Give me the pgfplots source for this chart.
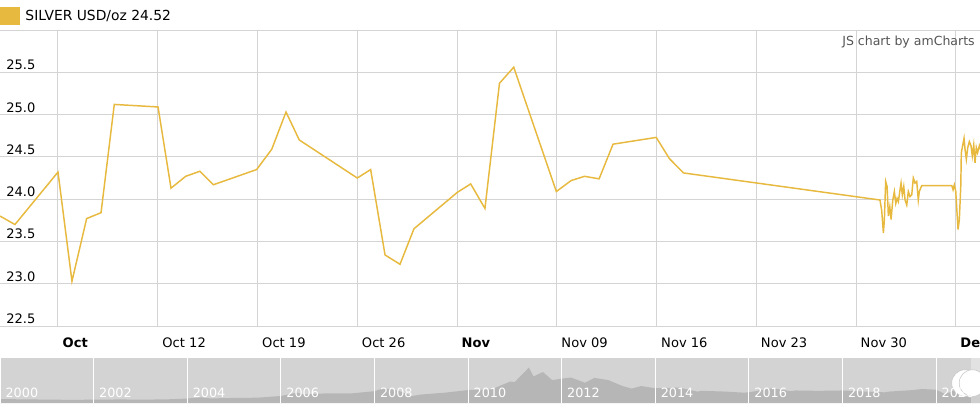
\documentclass[border=0pt]{standalone}
\usepackage{pgfplots}
\pgfplotsset{compat=1.18}
\usepackage{fontspec}
\setmainfont{DejaVu Sans}
\definecolor{silver}{RGB}{231,185,62}
\definecolor{gridc}{RGB}{212,212,212}
\definecolor{navbg}{RGB}{211,211,211}
\definecolor{navfill}{RGB}{182,182,182}
\definecolor{credit}{RGB}{85,85,85}
\begin{document}
\begin{tikzpicture}
\useasboundingbox (0,0) rectangle (735pt,-308.25pt);
\begin{axis}[
  at={(0pt,-22.5pt)}, anchor=north west,
  scale only axis, width=735pt, height=222pt,
  xmin=-4.07, xmax=64.70, ymin=22.5, ymax=26,
  axis line style={draw=none},
  major tick length=0pt,
  xtick={0,7,14,21,28,35,42,49,56,63},
  xticklabels={\textbf{Oct},Oct 12,Oct 19,Oct 26,\textbf{Nov},Nov 09,Nov 16,Nov 23,Nov 30,\textbf{Dec}},
  ytick={22.5,23,23.5,24,24.5,25,25.5,26},
  yticklabels={22.5,23.0,23.5,24.0,24.5,25.0,25.5,{}},
  grid=major, grid style={gridc, line width=0.75pt},
  tick label style={font=\fontsize{9.8pt}{12pt}\selectfont, text=black},
  xticklabel style={anchor=west, yshift=-12.75pt},
  yticklabel style={anchor=south west, inner sep=0pt, xshift=4.5pt, yshift=1.5pt},
  /pgf/number format/assume math mode=true,
  legend style={at={(0,1)}, anchor=south west, draw=none, fill=none,
    inner sep=0pt, outer sep=0pt, yshift=4pt,
    font=\fontsize{10.4pt}{12pt}\selectfont},
  legend cell align=left,
  legend image code/.code={\fill[silver] (0pt,-6pt) rectangle (14pt,6pt); \path (16pt,0pt);},
]
\addplot[silver, line width=1.1pt] coordinates {
(-4.07,23.80) (-3.02,23.70) (0,24.32) (0.98,23.03) (2.01,23.77) (3.02,23.84)
(3.95,25.12) (7.02,25.09) (7.93,24.13) (8.96,24.27) (9.96,24.33) (10.90,24.17)
(13.94,24.35) (15.00,24.59) (16.00,25.03) (16.93,24.70) (21.00,24.25) (21.94,24.35)
(22.95,23.34) (24.00,23.23) (24.98,23.65) (28.02,24.08) (28.96,24.18) (29.96,23.89)
(30.98,25.37) (31.98,25.56) (34.97,24.09) (36.01,24.22) (36.95,24.27) (37.97,24.24)
(38.95,24.65) (41.98,24.73) (42.90,24.48) (43.89,24.31)
(57.68,23.99) (57.80,23.87) (57.92,23.60) (57.99,23.76) (58.08,24.21) (58.18,24.15)
(58.27,23.80) (58.37,23.91) (58.46,23.76) (58.58,23.99) (58.69,24.09) (58.79,23.95)
(58.88,24.01) (58.97,23.97) (59.07,24.09) (59.16,24.19) (59.25,24.05) (59.35,24.15)
(59.44,23.99) (59.56,23.93) (59.67,24.09) (59.79,24.03) (59.91,24.05) (60.02,24.25)
(60.14,24.19) (60.26,24.21) (60.37,23.99) (60.44,24.09) (60.61,24.16) (62.72,24.16)
(62.81,24.11) (62.90,24.17) (63.00,24.09) (63.09,23.83) (63.16,23.64) (63.25,23.76)
(63.35,24.15) (63.39,24.55) (63.49,24.64) (63.58,24.72) (63.65,24.59) (63.74,24.47)
(63.84,24.61) (63.95,24.68) (64.07,24.63) (64.16,24.51) (64.26,24.64) (64.35,24.43)
(64.44,24.61) (64.53,24.55) (64.65,24.63) (64.70,24.59)
};
\addlegendentry{SILVER USD/oz 24.52}
\end{axis}
\node[anchor=east, inner sep=0pt, text=credit, font=\fontsize{9.4pt}{11pt}\selectfont] at (731.25pt,-31.7pt) {JS chart by amCharts};
\begin{axis}[
  at={(0pt,-268.5pt)}, anchor=north west,
  scale only axis, width=735pt, height=33.75pt,
  xmin=2000, xmax=2020.94, ymin=0, ymax=61,
  axis background/.style={fill=navbg},
  axis line style={draw=none}, major tick length=0pt,
  axis on top,
  xtick={2000,2002,2004,2006,2008,2010,2012,2014,2016,2018,2020},
  xticklabels={2000,2002,2004,2006,2008,2010,2012,2014,2016,2018,2020},
  ytick=\empty,
  xmajorgrids, major grid style={white, line width=0.75pt},
  xticklabel style={anchor=base west, inner sep=0pt, xshift=4pt, yshift=4pt, text=white,
    font=\fontsize{9.6pt}{11pt}\selectfont},
]
\addplot[fill=navfill, draw=none] coordinates {
(2000.0,5.3) (2000.5,5.0) (2001.0,4.6) (2001.5,4.3) (2002.0,4.5) (2002.5,4.8)
(2003.0,4.7) (2003.5,4.8) (2004.0,6.0) (2004.3,7.8) (2004.5,6.2) (2005.0,6.9)
(2005.5,7.2) (2006.0,9.5) (2006.35,14.0) (2006.5,11.5) (2007.0,13.2) (2007.5,13.0)
(2008.0,16.0) (2008.2,20.0) (2008.5,17.0) (2008.8,9.5) (2009.0,11.5) (2009.5,14.0)
(2010.0,17.5) (2010.5,18.5) (2010.9,29.0) (2011.0,28.5) (2011.3,48.0) (2011.4,36.0)
(2011.6,42.0) (2011.8,31.0) (2012.0,33.0) (2012.2,34.5) (2012.5,27.5) (2012.7,34.0)
(2013.0,31.0) (2013.3,23.0) (2013.5,19.5) (2013.7,23.0) (2014.0,20.0) (2014.5,21.0)
(2014.9,15.5) (2015.0,16.5) (2015.5,15.5) (2015.9,14.0) (2016.0,14.5) (2016.5,20.0)
(2016.9,16.0) (2017.0,17.0) (2017.5,16.5) (2018.0,17.0) (2018.5,15.5) (2018.9,14.5)
(2019.0,15.5) (2019.5,17.5) (2019.7,19.0) (2020.0,18.0) (2020.2,12.0) (2020.4,17.5)
(2020.6,28.5) (2020.75,24.0) (2020.94,24.5)
} \closedcycle;
\fill[white, opacity=0.35] (axis cs:2020.75,0) rectangle (axis cs:2020.94,61);
\draw[fill=white, draw=gray!45] (axis cs:2020.62,27) circle[radius=10pt];
\draw[fill=white, draw=gray!45] (axis cs:2020.78,27) circle[radius=10pt];
\end{axis}
\end{tikzpicture}
\end{document}
